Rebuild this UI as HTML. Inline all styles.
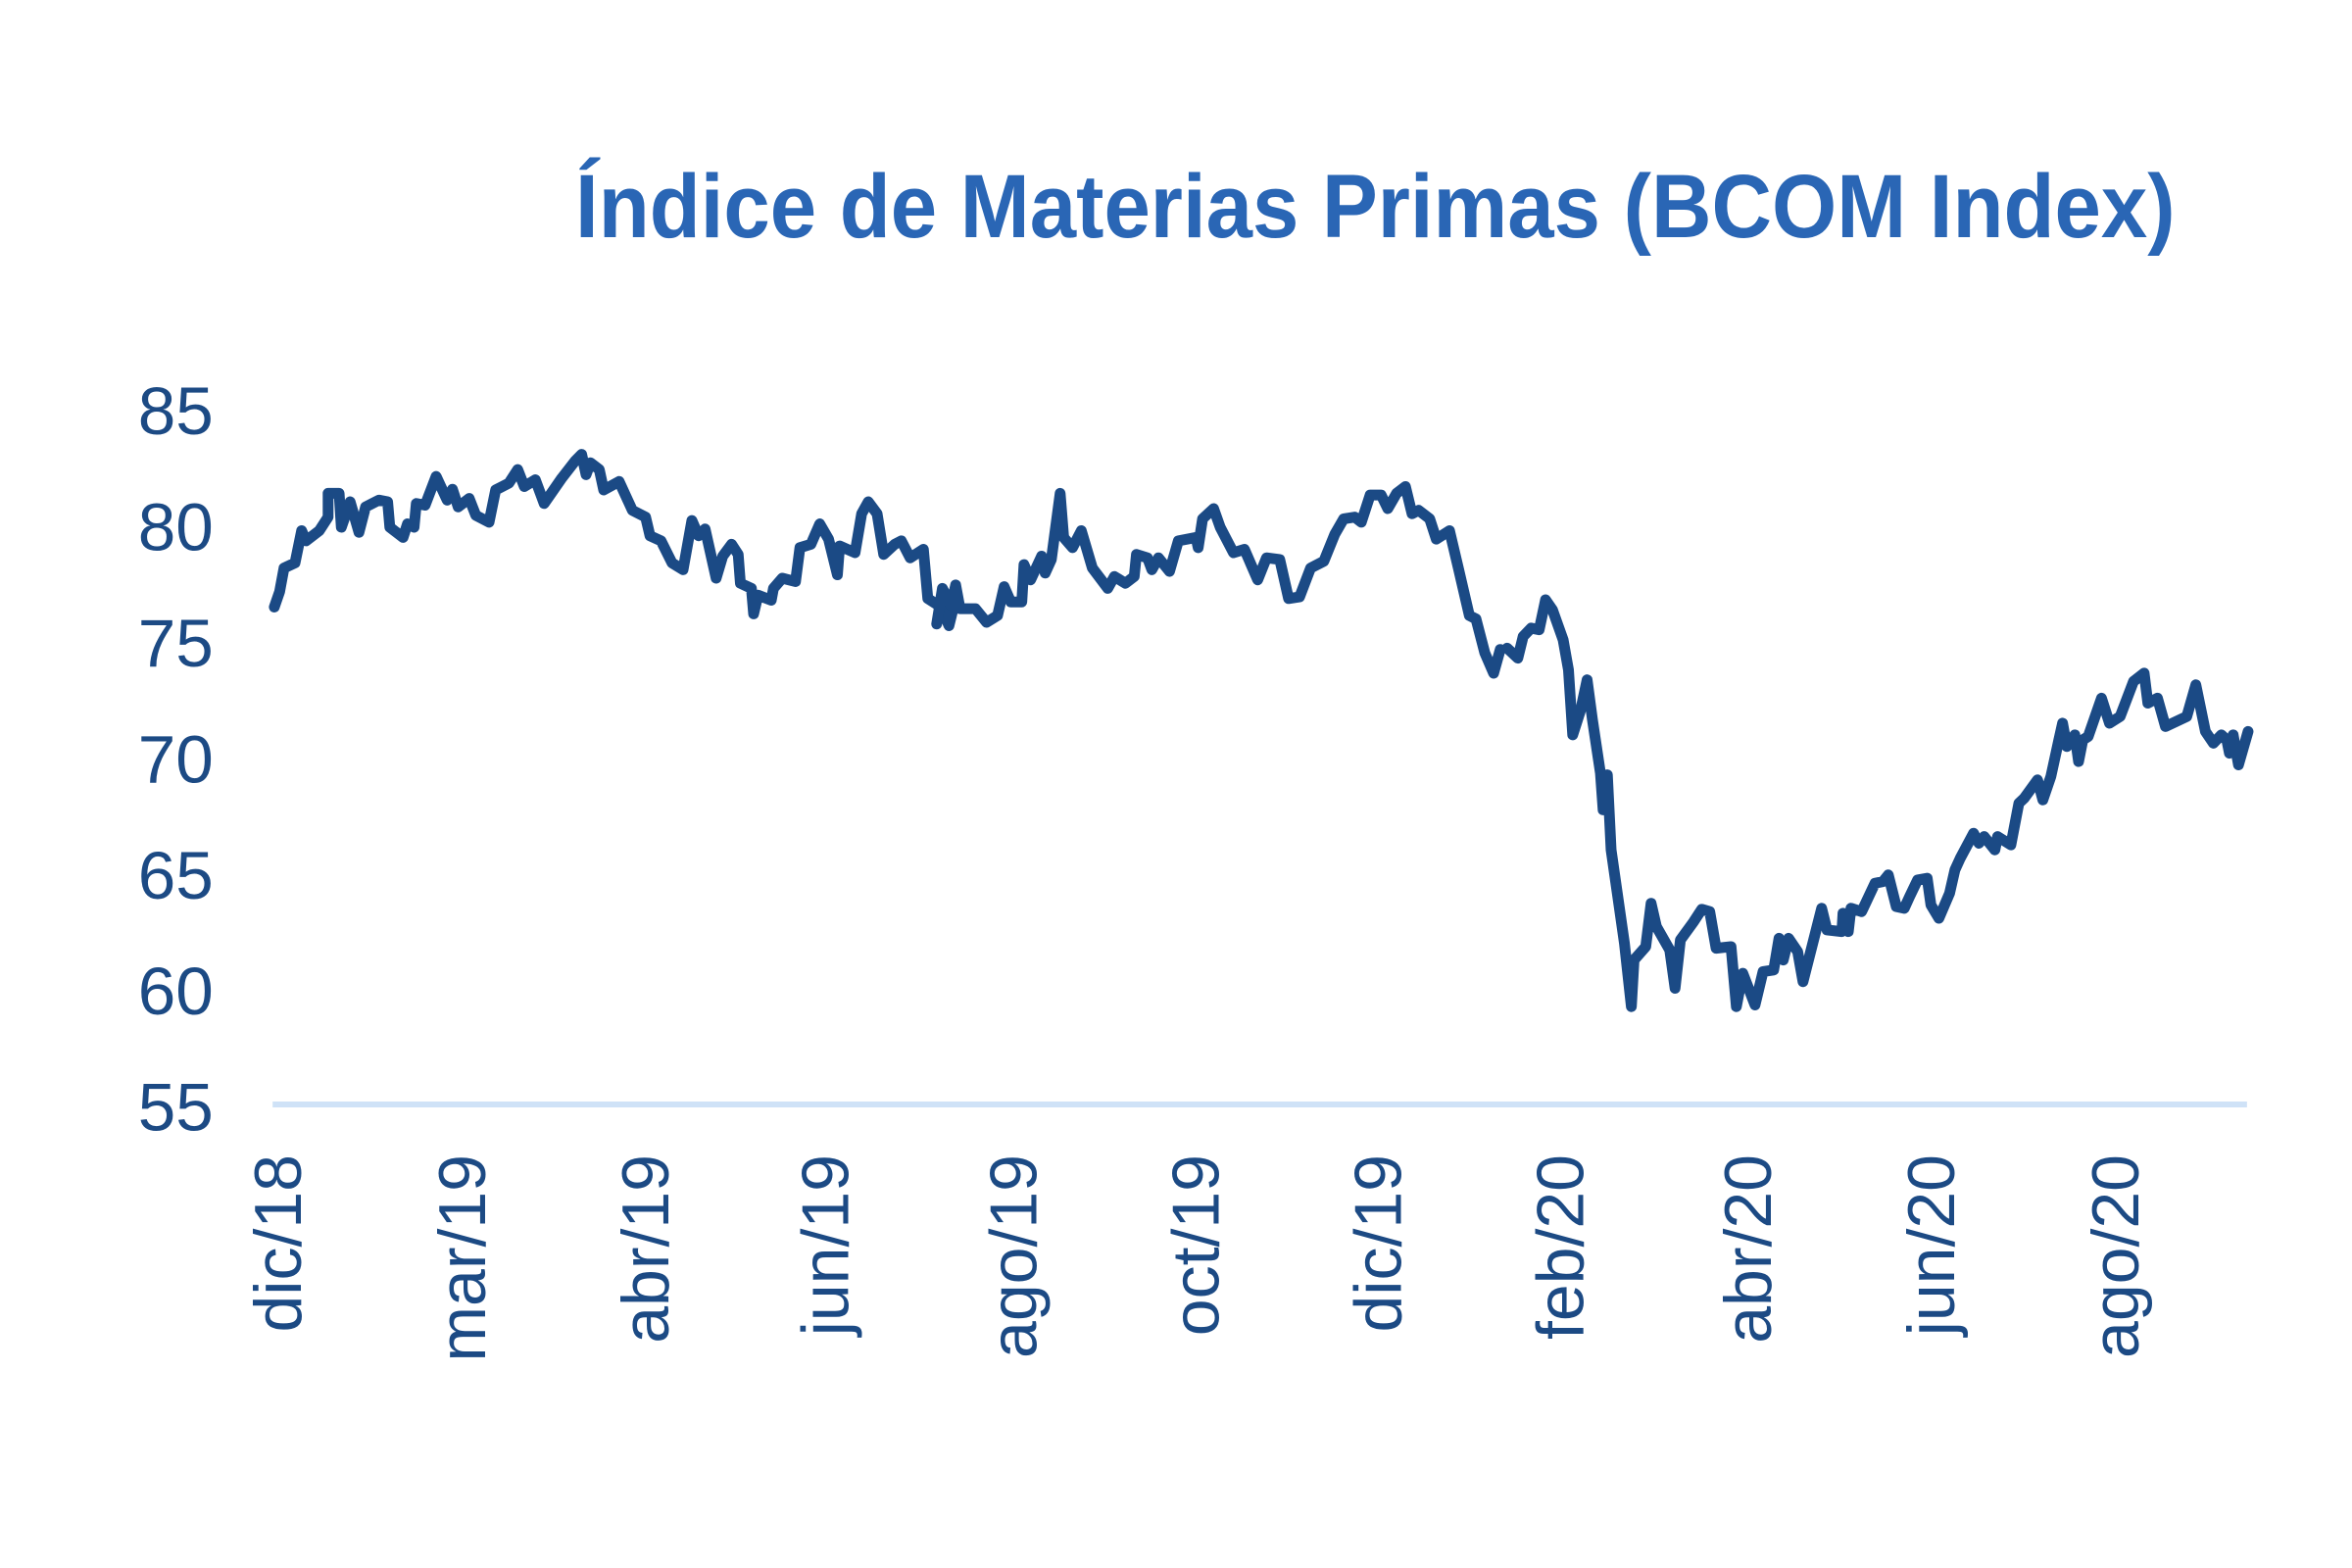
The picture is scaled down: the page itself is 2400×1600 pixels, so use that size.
<!DOCTYPE html>
<html><head><meta charset="utf-8"><style>
html,body{margin:0;padding:0;background:#fff;}
svg{display:block;}
text{font-family:"Liberation Sans",Arial,sans-serif;}
</style></head><body>
<svg width="2400" height="1600" viewBox="0 0 2400 1600" xmlns="http://www.w3.org/2000/svg">
<rect width="2400" height="1600" fill="#fff"/>
<g transform="scale(0.99,1)">
<text x="593" y="242" font-size="92" font-weight="bold" fill="#2a66b5" textLength="1649" lengthAdjust="spacingAndGlyphs">Índice de Materias Primas (BCOM Index)</text>
<g font-size="68" fill="#1c4a84" text-anchor="end">
<text transform="translate(310,1178) rotate(-90)">dic/18</text>
<text transform="translate(500,1178) rotate(-90)">mar/19</text>
<text transform="translate(689,1178) rotate(-90)">abr/19</text>
<text transform="translate(874,1178) rotate(-90)">jun/19</text>
<text transform="translate(1068,1178) rotate(-90)">ago/19</text>
<text transform="translate(1256,1178) rotate(-90)">oct/19</text>
<text transform="translate(1444,1178) rotate(-90)">dic/19</text>
<text transform="translate(1632,1178) rotate(-90)">feb/20</text>
<text transform="translate(1825,1178) rotate(-90)">abr/20</text>
<text transform="translate(2014,1178) rotate(-90)">jun/20</text>
<text transform="translate(2204,1178) rotate(-90)">ago/20</text>
</g>
</g>
<g transform="matrix(0.99,0,0,0.987,0,2.8)">
<g font-size="70" fill="#1c4a84" text-anchor="end">
<text x="220" y="446">85</text>
<text x="220" y="566">80</text>
<text x="220" y="686">75</text>
<text x="220" y="806">70</text>
<text x="220" y="926">65</text>
<text x="220" y="1046">60</text>
<text x="220" y="1166">55</text>
</g>
<line x1="281" y1="1139" x2="2316" y2="1139" stroke="#cfe2f7" stroke-width="6"/>
<g fill="none" stroke="#1b4a85" stroke-width="11" stroke-linejoin="round" stroke-linecap="round">
<polyline vector-effect="non-scaling-stroke" transform="translate(270,430) scale(0.4545,0.3509)" points="28,555 40,510 50,440 75,425 90,330 100,360 130,330 150,290 150,220 175,220 180,320 200,245 220,335 235,260 265,240 285,245 290,320 320,350 330,310 345,320 350,250 370,255 395,170 420,240 432,208 445,260 470,235 485,285 515,305 530,210 560,190 580,150 595,200 620,180 640,250 680,175 710,125 725,105 735,165 745,130 765,150 775,210 810,185 840,270 870,290 880,345 905,360 930,425 955,445 975,300 990,345 1005,325 1030,470 1045,405 1065,370 1080,400 1085,485 1110,500 1115,575 1125,520 1155,535 1160,500 1180,470 1210,480 1220,380 1245,370 1265,310 1285,355 1305,460 1310,375 1345,395 1360,280 1375,245 1395,280 1410,400 1435,370 1450,360 1470,410 1500,385 1510,530 1540,555 1558,610 1575,520"/>
<polyline vector-effect="non-scaling-stroke" transform="translate(960,430) scale(0.4545,0.3509)" points="12,605 25,500 45,550 55,490 65,560 100,560 125,600 150,580 165,495 180,540 205,540 210,430 225,475 250,405 258,455 272,415 292,220 300,350 320,380 340,330 365,440 400,500 415,465 440,485 460,465 465,400 490,410 500,445 515,410 540,450 560,360 600,350 605,380 615,295 640,265 655,320 685,395 710,385 740,475 760,410 790,415 810,530 835,525 860,440 890,420 915,340 935,295 960,290 975,305 995,225 1020,225 1035,265 1055,220 1075,200 1090,280 1105,270 1130,295 1145,355 1175,330 1195,440 1220,580 1235,590 1255,690 1275,750 1290,680"/>
<polyline vector-effect="non-scaling-stroke" transform="translate(1515,600) scale(0.5494,0.3448)" points="70,195 90,225 100,160 115,135 130,140 142,50 155,80 175,170 185,260 193,455 208,380 220,290 230,410 245,570 250,680 258,575 265,800 290,1080 303,1270 308,1130 330,1090 340,960 350,1030 375,1100 385,1215 395,1070 420,1015 435,978 450,985 462,1095 490,1090 500,1270 512,1170 535,1265 550,1165 570,1160 580,1065 588,1130 598,1065 615,1105 625,1195 660,975 670,1040 698,1045 700,990 710,1045 715,975 735,985 760,900 775,895 785,875 800,970 815,975 825,940 840,890 858,885 865,965 880,1005 900,930 910,860 920,825 945,750 955,780 965,760 985,800 990,760 1015,785 1030,660 1040,645 1065,590 1075,650 1090,580 1105,470 1112,420 1120,490 1135,455 1142,535 1150,470 1160,460 1185,345 1200,420 1220,400 1245,295 1265,270 1272,360 1290,345 1305,430 1345,400 1362,305 1380,445 1395,480 1410,455 1420,470 1425,510 1432,455 1442,545 1460,445"/>
</g>
</g>
</svg>
</body></html>
